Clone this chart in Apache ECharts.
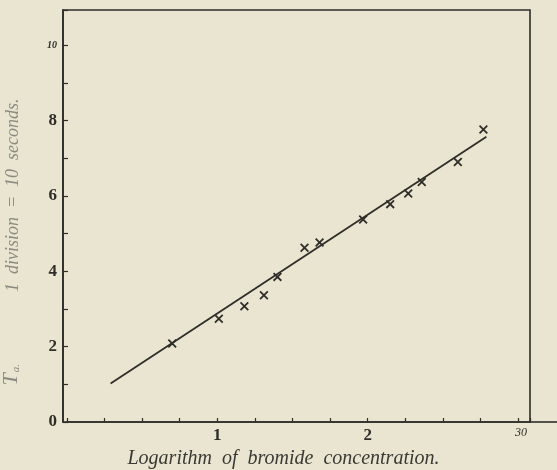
<!DOCTYPE html>
<html>
<head>
<meta charset="utf-8">
<script src="https://cdn.jsdelivr.net/npm/echarts@6/dist/echarts.min.js"></script>
<style>
html,body{margin:0;padding:0;background:#e9e5d1;}
#c{width:557px;height:470px;}
</style>
</head>
<body>
<div id="c"></div>
<script>
// Data
const logConc = [0.70, 1.01, 1.18, 1.31, 1.40, 1.58, 1.68, 1.97, 2.15, 2.27, 2.36, 2.60, 2.77];
const ta      = [2.08, 2.74, 3.07, 3.36, 3.85, 4.62, 4.76, 5.37, 5.78, 6.06, 6.37, 6.90, 7.76];
const fitX = [0.29, 2.79];
const fitY = [1.02, 7.57];
const yTickLabels = {0: '0', 2: '2', 4: '4', 6: '6', 8: '8', 10: '10'};
const xTickLabels = {1: '1', 2: '2', 3: '30'};

const ink = '#2e2d28';
const serif = '"Liberation Serif","DejaVu Serif",serif';

const chart = echarts.init(document.getElementById('c'), null, {renderer: 'canvas'});
const yMax = 10.93;
const option = {
  backgroundColor: '#e9e5d1',
  animation: false,
  grid: [
    {left: 63, right: 27, top: 10, bottom: 48, show: true, borderColor: ink, borderWidth: 1.6,
     backgroundColor: 'transparent', containLabel: false, outerBoundsMode: 'none'},
    {left: 67, right: 27, top: 10, bottom: 48, containLabel: false, outerBoundsMode: 'none'}
  ],
  xAxis: [
    {gridIndex: 0, type: 'value', min: 0, max: 1, show: false},
    {gridIndex: 1, type: 'value', min: 0, max: 3.08, interval: 0.25,
     axisLine: {show: true, lineStyle: {color: ink, width: 1.6}},
     axisTick: {show: true, inside: true, length: 4, lineStyle: {color: ink, width: 1.2}},
     splitLine: {show: false},
     axisLabel: {
       margin: 5,
       formatter: v => {
         const k = Math.round(v * 100) / 100;
         if (k === 3) return '{s|' + xTickLabels[3] + '}';
         return xTickLabels[k] !== undefined ? '{b|' + xTickLabels[k] + '}' : '';
       },
       rich: {
         b: {fontFamily: serif, fontWeight: 'bold', fontSize: 17, color: ink},
         s: {fontFamily: serif, fontStyle: 'italic', fontSize: 12, color: ink, padding: [0, 0, 0, 6]}
       }
     },
     name: 'Logarithm  of  bromide  concentration.',
     nameLocation: 'middle', nameGap: 27,
     nameTextStyle: {fontFamily: serif, fontStyle: 'italic', fontSize: 20, color: '#3a3933', padding: [0, 30, 0, 0]}
    }
  ],
  yAxis: [
    {gridIndex: 0, type: 'value', min: 0, max: yMax, interval: 1,
     axisLine: {show: true, lineStyle: {color: ink, width: 1.6}},
     axisTick: {show: true, inside: true, length: 5, lineStyle: {color: ink, width: 1.2}},
     splitLine: {show: false},
     axisLabel: {
       margin: 6,
       formatter: v => {
         const k = Math.round(v);
         if (k === 10) return '{s|' + yTickLabels[10] + '}';
         return yTickLabels[k] !== undefined ? '{b|' + yTickLabels[k] + '}' : '';
       },
       rich: {
         b: {fontFamily: serif, fontWeight: 'bold', fontSize: 17, color: ink},
         s: {fontFamily: serif, fontStyle: 'italic', fontWeight: 'bold', fontSize: 10, color: ink}
       }
     },
     name: '{t|T}{a|a.}{m|1  division  =  10  seconds.}',
     nameLocation: 'middle', nameGap: 41, nameRotate: 90,
     nameTextStyle: {
       color: '#8b8a80', padding: [0, 52, 0, 0],
       rich: {
         t: {fontFamily: serif, fontStyle: 'italic', fontSize: 22, color: '#8b8a80', verticalAlign: 'bottom'},
         a: {fontFamily: serif, fontStyle: 'italic', fontSize: 11, color: '#8b8a80', verticalAlign: 'bottom', padding: [0, 72, 0, 1]},
         m: {fontFamily: serif, fontStyle: 'italic', fontSize: 18, color: '#8b8a80', verticalAlign: 'bottom'}
       }
     }
    },
    {gridIndex: 1, type: 'value', min: 0, max: yMax, show: false}
  ],
  series: [
    {
      type: 'line', xAxisIndex: 1, yAxisIndex: 1,
      data: fitX.map((x, i) => [x, fitY[i]]),
      showSymbol: false, symbol: 'none',
      lineStyle: {color: ink, width: 1.8}
    },
    {
      type: 'scatter', xAxisIndex: 1, yAxisIndex: 1,
      data: logConc.map((x, i) => [x, ta[i]]),
      symbol: 'path://M0,1.4L1.4,0L10,8.6L8.6,10Z M8.6,0L10,1.4L1.4,10L0,8.6Z',
      symbolSize: 9,
      itemStyle: {color: ink, opacity: 1}
    }
  ],
  graphic: [
    {type: 'line', shape: {x1: 530, y1: 422, x2: 557, y2: 422}, style: {stroke: ink, lineWidth: 1.6}}
  ]
};
chart.setOption(option);
</script>
</body>
</html>
